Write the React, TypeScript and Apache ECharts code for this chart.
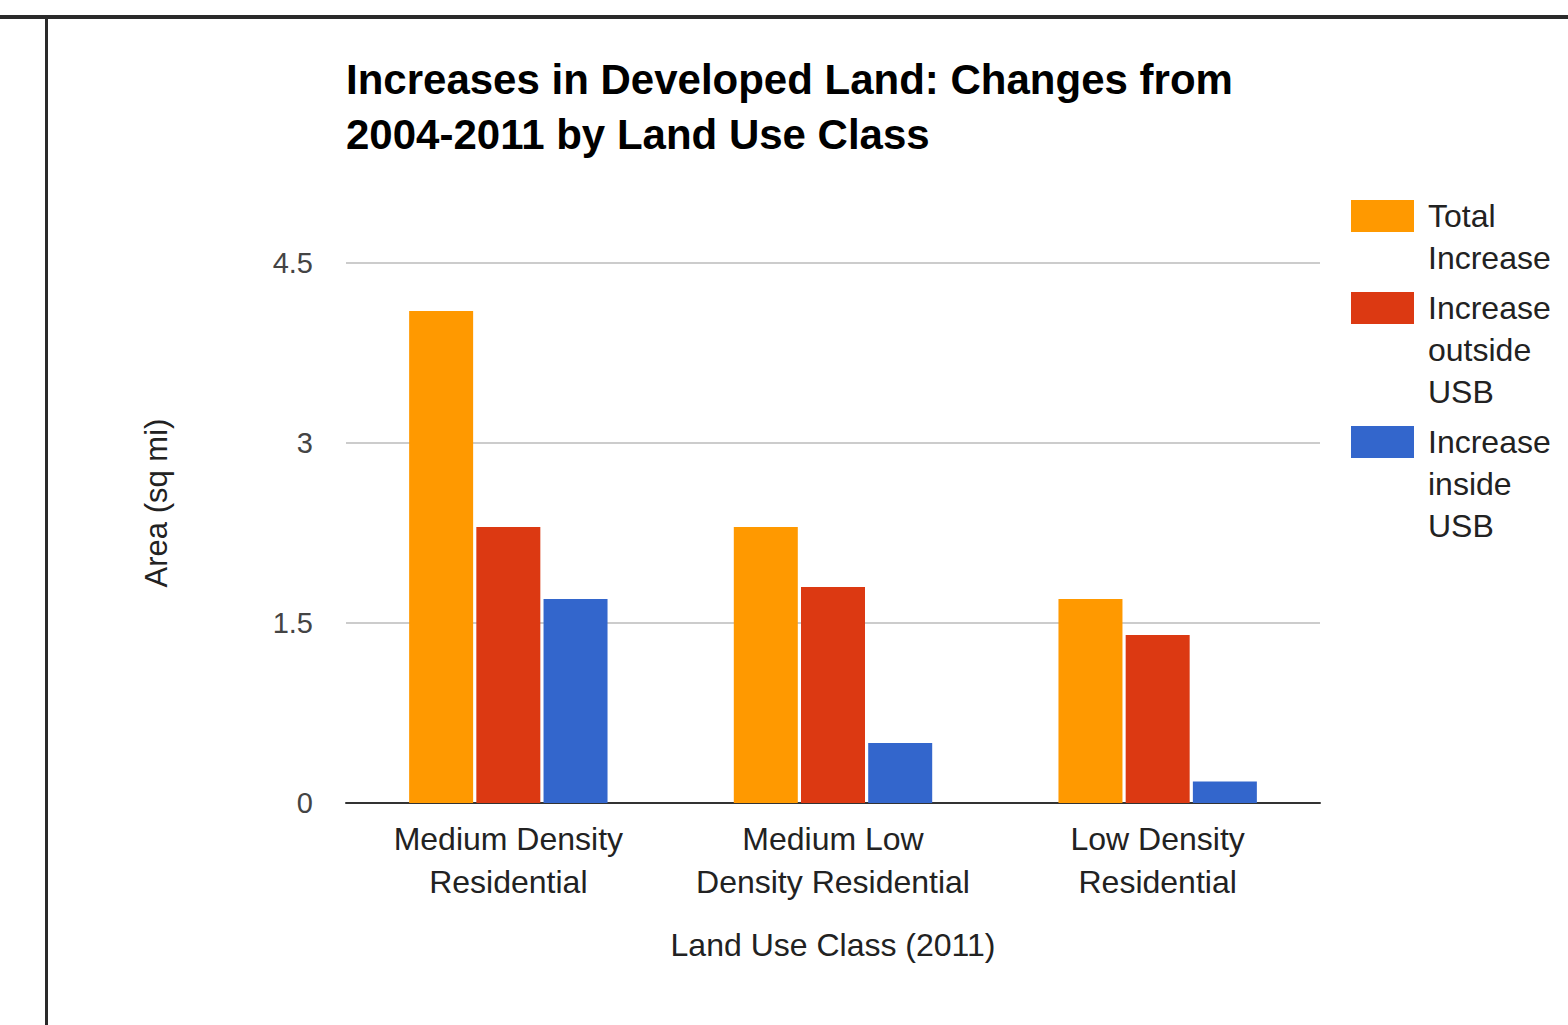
import React, { useEffect, useRef } from "react";
import * as echarts from "echarts";

const titleLines = ["Increases in Developed Land: Changes from", "2004-2011 by Land Use Class"];
const categories = ["Medium Density\nResidential", "Medium Low\nDensity Residential", "Low Density\nResidential"];
const seriesNames = ["Total Increase", "Increase outside USB", "Increase inside USB"];
const legendLines = [["Total", "Increase"], ["Increase", "outside", "USB"], ["Increase", "inside", "USB"]];
const colors = ["#ff9900", "#dc3912", "#3366cc"];
const totalIncrease = [4.1, 2.3, 1.7];
const outsideUSB = [2.3, 1.8, 1.4];
const insideUSB = [1.7, 0.5, 0.18];
const yTicks = { min: 0, max: 4.5, interval: 1.5 };
const yAxisName = "Area (sq mi)";
const xAxisName = "Land Use Class (2011)";

const FONT = "'Liberation Sans', Arial, sans-serif";

export default function App() {
  const ref = useRef<HTMLDivElement>(null);
  useEffect(() => {
    if (!ref.current) return;
    const chart = echarts.init(ref.current, undefined, { renderer: "svg" });
    const values = [totalIncrease, outsideUSB, insideUSB];

    const legendGraphics: any[] = [];
    let y = 216;
    legendLines.forEach((lines, i) => {
      legendGraphics.push({
        type: "rect",
        shape: { x: 1351, y: y - 16, width: 63, height: 32 },
        style: { fill: colors[i] },
      });
      legendGraphics.push({
        type: "text",
        x: 1428,
        y: y - 21,
        style: {
          text: lines.join("\n"),
          font: `32px ${FONT}`,
          fill: "#222",
          lineHeight: 42,
          textVerticalAlign: "top",
        },
      });
      y += lines.length * 42 + 8;
    });

    chart.setOption({
      animation: false,
      backgroundColor: "#ffffff",
      title: {
        text: titleLines.join("\n"),
        left: 341,
        top: 47,
        textStyle: {
          fontFamily: FONT,
          fontSize: 42,
          fontWeight: "bold",
          color: "#000",
          lineHeight: 55,
        },
      },
      grid: { left: 346, right: 248, top: 263, bottom: 222 },
      xAxis: {
        type: "category",
        data: categories,
        name: xAxisName,
        nameLocation: "middle",
        nameGap: 126,
        nameTextStyle: { fontFamily: FONT, fontSize: 32, color: "#222" },
        axisLine: { lineStyle: { color: "#333", width: 2 } },
        axisTick: { show: false },
        axisLabel: {
          fontFamily: FONT,
          fontSize: 32,
          color: "#222",
          lineHeight: 43,
          margin: 14,
          interval: 0,
        },
      },
      yAxis: {
        type: "value",
        min: yTicks.min,
        max: yTicks.max,
        interval: yTicks.interval,
        name: yAxisName,
        nameLocation: "middle",
        nameGap: 174,
        nameRotate: 90,
        nameTextStyle: { fontFamily: FONT, fontSize: 31, color: "#222", padding: [0, 0, 0, 60] },
        axisLine: { show: false },
        axisTick: { show: false },
        axisLabel: {
          fontFamily: FONT,
          fontSize: 29,
          color: "#444",
          margin: 33,
        },
        splitLine: { lineStyle: { color: "#cccccc", width: 2 } },
      },
      series: seriesNames.map((name, i) => ({
        name,
        type: "bar",
        data: values[i],
        barWidth: 64,
        barGap: "5%",
        itemStyle: { color: colors[i] },
      })),
      graphic: [
        { type: "rect", shape: { x: 0, y: 15, width: 1568, height: 4 }, style: { fill: "#2a2a2a" } },
        { type: "rect", shape: { x: 45, y: 17, width: 3, height: 1010 }, style: { fill: "#2a2a2a" } },
        ...legendGraphics,
      ],
    });
    return () => chart.dispose();
  }, []);
  return (
    <div
      ref={ref}
      style={{ position: "fixed", left: 0, top: 0, width: 1568, height: 1025 }}
    />
  );
}
